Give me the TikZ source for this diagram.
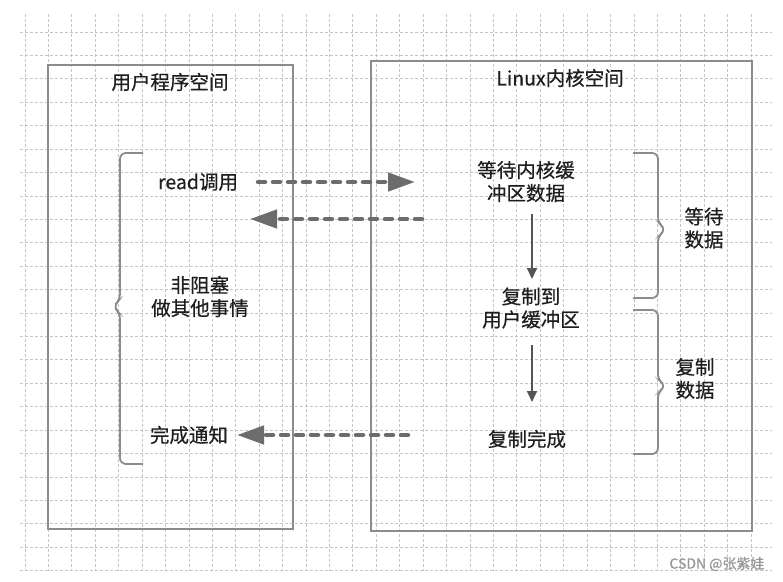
\documentclass[tikz,border=0pt]{standalone}
\usepackage{fontspec}
\setmainfont{Noto Sans CJK SC}[UprightFeatures={FakeBold=0.5}]
\usetikzlibrary{arrows.meta}
\definecolor{gridc}{RGB}{196,196,196}
\definecolor{boxc}{RGB}{140,140,140}
\definecolor{arrc}{RGB}{108,108,108}
\definecolor{darr}{RGB}{85,85,85}
\definecolor{txtc}{RGB}{30,30,30}
\definecolor{wmc}{RGB}{150,150,150}
\tikzset{
  gridline/.style={draw=gridc, line width=0.8pt, dash pattern=on 3pt off 2pt},
  panel/.style={draw=boxc, line width=2pt, fill=none, inner sep=0pt, outer sep=0pt},
  txt/.style={text=txtc, align=center, inner sep=0pt, font=\fontsize{19.5}{23}\selectfont},
  dasharrow/.style={draw=arrc, line width=4.5pt, line cap=round, dash pattern=on 7pt off 8pt,
    -{Triangle[length=27pt,width=18pt,fill=arrc]}},
  downarrow/.style={draw=darr, line width=1.8pt, -{Triangle[length=11pt,width=10pt]}},
  bracestyle/.style={draw=boxc, line width=1.8pt, rounded corners=6pt},
  wmark/.style={text=wmc, inner sep=0pt, font=\fontsize{14}{16}\selectfont}
}
\begin{document}
\begin{tikzpicture}[x=1pt,y=-1pt]
\useasboundingbox (0,0) rectangle (783,581);
\fill[white] (0,0) rectangle (783,581);
% grid
\foreach \i in {0,...,31} \draw[gridline] ({25+23.42*\i},14) -- ({25+23.42*\i},571);
\foreach \j in {0,...,23} \draw[gridline] (20,{32+23.42*\j}) -- (772,{32+23.42*\j});
% panels
\node[panel, minimum width=245pt, minimum height=464pt] (user) at (170.5,297) {};
\node[panel, minimum width=381pt, minimum height=470pt] (kern) at (561.5,296) {};
\node[txt] (utitle) at (170,82) {用户程序空间};
\node[txt] (ktitle) at (560,78) {Linux内核空间};
% left texts
\node[txt] (read) at (198,182) {read调用};
\node[txt] (nonblock) at (200,296.5) {非阻塞\\做其他事情};
\node[txt] (notify) at (189,435) {完成通知};
% right texts
\node[txt] (wait) at (526,181.5) {等待内核缓\\冲区数据};
\node[txt] (copy) at (531,308) {复制到\\用户缓冲区};
\node[txt] (done) at (527,439) {复制完成};
\node[txt] (waitdata) at (704,228) {等待\\数据};
\node[txt] (copydata) at (695,378.5) {复制\\数据};
\node[wmark] (wm) at (717,564) {CSDN @张紫娃};
% arrow end points
\coordinate (a1s) at (258,182);
\coordinate (a1e) at (415,182);
\coordinate (a2s) at (422,219);
\coordinate (a2e) at (250,219);
\coordinate (a3s) at (408,435);
\coordinate (a3e) at (237,435);
\coordinate (d1s) at (532,214);
\coordinate (d1e) at (532,279);
\coordinate (d2s) at (532,345);
\coordinate (d2e) at (532,402);
\draw[dasharrow] (a1s) -- (a1e);
\draw[dasharrow] (a2s) -- (a2e);
\draw[dasharrow] (a3s) -- (a3e);
\draw[downarrow] (d1s) -- (d1e);
\draw[downarrow] (d2s) -- (d2e);
% braces
\draw[bracestyle] (143,153) -- (120,153) -- (120,300) -- (113,306.5) -- (120,313) -- (120,464) -- (143,464);
\draw[bracestyle] (633,153) -- (658,153) -- (658,223) -- (666,229.5) -- (658,236) -- (658,298) -- (633,298);
\draw[bracestyle] (633,310) -- (658,310) -- (658,380) -- (666,386) -- (658,392) -- (658,454) -- (633,454);
\end{tikzpicture}
\end{document}
